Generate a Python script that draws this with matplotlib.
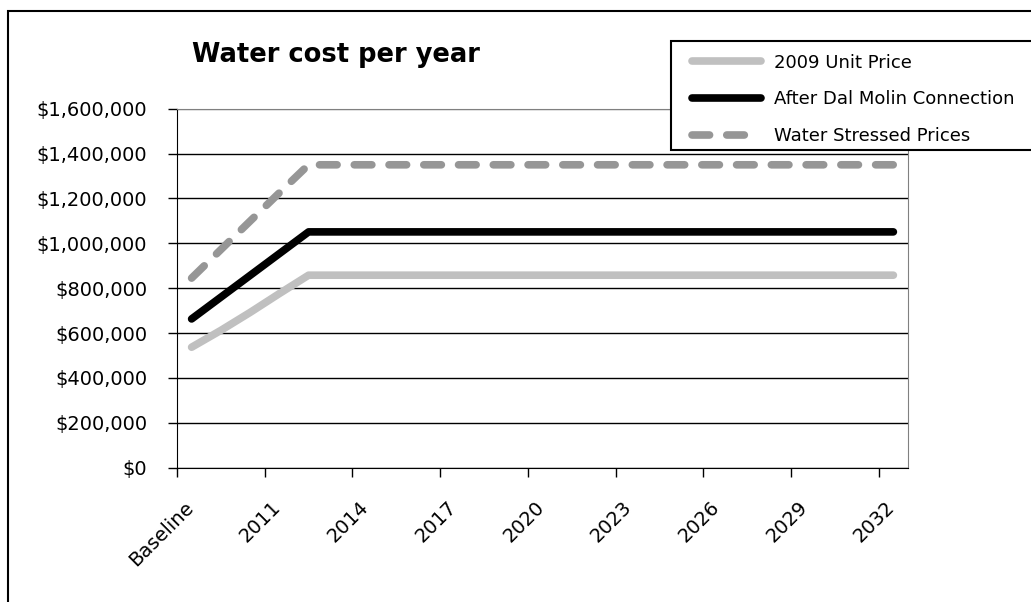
import numpy as np
import matplotlib
matplotlib.use("Agg")
import matplotlib.pyplot as plt
from matplotlib.patches import Rectangle
from matplotlib.ticker import FuncFormatter
from matplotlib.transforms import ScaledTranslation

# categories: Baseline then each year 2009..2032
categories = ["Baseline"] + [str(y) for y in range(2009, 2033)]
tick_labels = ["Baseline", "2011", "2014", "2017", "2020", "2023", "2026", "2029", "2032"]

# yearly water cost ($)
unit_price_2009 = [537000, 612000, 692000, 776000, 858000,
                   858000, 858000, 858000, 858000, 858000,
                   858000, 858000, 858000, 858000, 858000,
                   858000, 858000, 858000, 858000, 858000,
                   858000, 858000, 858000, 858000, 858000]
after_dal_molin = [663000, 760000, 857000, 954000, 1051000,
                   1051000, 1051000, 1051000, 1051000, 1051000,
                   1051000, 1051000, 1051000, 1051000, 1051000,
                   1051000, 1051000, 1051000, 1051000, 1051000,
                   1051000, 1051000, 1051000, 1051000, 1051000]
water_stressed = [845000, 972000, 1099000, 1225000, 1350000,
                  1350000, 1350000, 1350000, 1350000, 1350000,
                  1350000, 1350000, 1350000, 1350000, 1350000,
                  1350000, 1350000, 1350000, 1350000, 1350000,
                  1350000, 1350000, 1350000, 1350000, 1350000]

W, H = 1031, 602
fig = plt.figure(figsize=(W / 100, H / 100), dpi=100)
ax = fig.add_axes([177 / W, 1 - 467.7 / H, (908 - 177) / W, (467.7 - 108.7) / H])

x = np.arange(len(categories))
lw = 5.5
l1, = ax.plot(x, unit_price_2009, color="#c0c0c0", lw=lw, solid_capstyle="round",
              solid_joinstyle="round", zorder=3)
l2, = ax.plot(x, after_dal_molin, color="black", lw=lw, solid_capstyle="round",
              solid_joinstyle="round", zorder=3)
l3, = ax.plot(x, water_stressed, color="#969696", lw=lw, dashes=(2.3, 2.25),
              dash_capstyle="round", zorder=3)

ax.set_xlim(-0.5, len(categories) - 0.5)
ax.set_ylim(0, 1600000)
ax.set_yticks(np.arange(0, 1600001, 200000))
ax.yaxis.set_major_formatter(FuncFormatter(lambda v, p: "${:,.0f}".format(v)))
ax.set_xticks(np.arange(-0.5, len(categories) - 1, 3))
ax.set_xticklabels(tick_labels, rotation=45, ha="right", va="top")

ax.yaxis.grid(True, color="black", lw=1)
ax.get_ygridlines()[-1].set_color("#808080")
ax.set_axisbelow(True)

for side in ["top", "right"]:
    ax.spines[side].set_color("#808080")
for side in ["left", "bottom"]:
    ax.spines[side].set_color("black")

ax.tick_params(axis="y", direction="out", length=6.5, width=1, labelsize=14, pad=15)
ax.tick_params(axis="x", direction="out", length=6.5, width=1, labelsize=14, pad=15)
off = ScaledTranslation(20 / 100, 0, fig.dpi_scale_trans)
for lab in ax.get_xticklabels():
    lab.set_transform(lab.get_transform() + off)

fig.text(336 / W, 1 - 61.7 / H, "Water cost per year", ha="center", va="baseline",
         fontsize=18.5, fontweight="bold")

# outer chart border (cut off at the right and bottom)
fig.add_artist(Rectangle((8 / W, -0.1), 1.2, 1 - 11 / H + 0.1, transform=fig.transFigure,
                         fill=False, ec="black", lw=1.5, zorder=0))

# legend box
fig.add_artist(Rectangle((671 / W, 1 - 150 / H), (1045 - 671) / W, 109 / H,
                         transform=fig.transFigure, fc="white", ec="black", lw=1.5, zorder=3))
fig.legend([l1, l2, l3], ["2009 Unit Price", "After Dal Molin Connection", "Water Stressed Prices"],
           loc="upper left", bbox_to_anchor=(691.75 / W, 1 - 53.5 / H),
           bbox_transform=fig.transFigure, frameon=False, fontsize=13,
           borderpad=0, borderaxespad=0, handlelength=3.85, handletextpad=0.71,
           labelspacing=1.05)

fig.savefig("out.png", dpi=100)
